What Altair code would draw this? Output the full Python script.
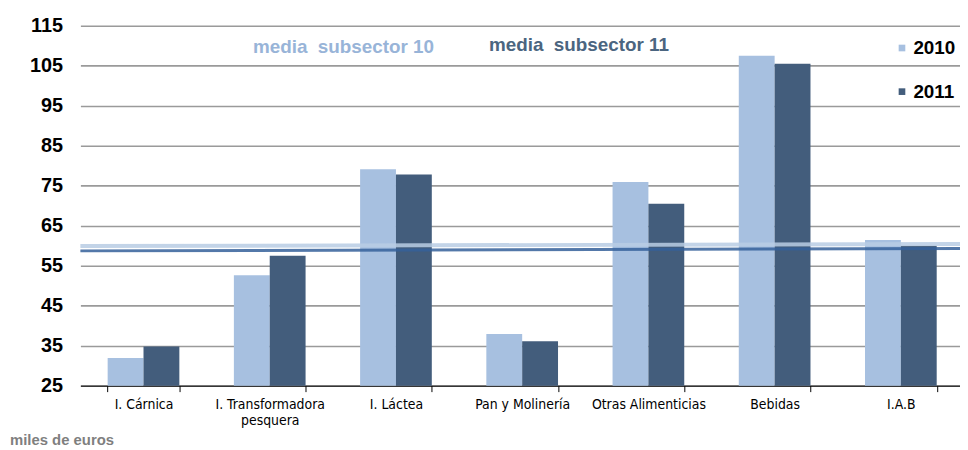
import altair as alt
import pandas as pd

categories = ["I. Cárnica", "I. Transformadora pesquera", "I. Láctea",
              "Pan y Molinería", "Otras Alimenticias", "Bebidas", "I.A.B"]
years = ["2010", "2011"]
v2010 = [31.9, 52.6, 79.1, 37.9, 75.9, 107.5, 61.4]
v2011 = [34.8, 57.5, 77.8, 36.1, 70.5, 105.5, 60.0]

line_x = [0, 7]
media10 = [59.9, 60.4]
media11 = [58.7, 59.3]

y_ticks = [25, 35, 45, 55, 65, 75, 85, 95, 105, 115]

rows = []
for c, a, b in zip(categories, v2010, v2011):
    rows.append({"cat": c, "year": "2010", "value": a})
    rows.append({"cat": c, "year": "2011", "value": b})
bars_df = pd.DataFrame(rows)

lines_df = pd.DataFrame({"x": line_x + line_x,
                         "v": media10 + media11,
                         "serie": ["m10"] * 2 + ["m11"] * 2})

FONT = "Liberation Sans"
NARROW = "DejaVu Sans Condensed, Liberation Sans Narrow, Liberation Sans"

yscale = alt.Scale(domain=[25, 115], nice=False, zero=False)

bars = alt.Chart(bars_df).mark_bar().encode(
    x=alt.X("cat:N", sort=categories, title=None,
            scale=alt.Scale(paddingInner=0.432, paddingOuter=0.216),
            axis=alt.Axis(labelAngle=0, labelFont=NARROW, labelFontSize=14,
                          labelColor="#000000", domainColor="#000000",
                          tickColor="#000000", tickSize=6, tickBand="extent",
                          labelPadding=6, labelLineHeight=16, labelLimit=200,
                          labelExpr="datum.label == 'I. Transformadora pesquera' ? ['I. Transformadora', 'pesquera'] : datum.label")),
    xOffset=alt.XOffset("year:N", scale=alt.Scale(paddingInner=0, paddingOuter=0)),
    y=alt.Y("value:Q", scale=yscale, title=None,
            axis=alt.Axis(values=y_ticks, domain=False, ticks=False,
                          labelFont=FONT, labelFontWeight="bold", labelFontSize=20,
                          labelColor="#000000", labelPadding=18,
                          gridColor="#9a9a9a", gridWidth=1.6)),
    y2=alt.datum(25),
    color=alt.Color("year:N", scale=alt.Scale(domain=years, range=["#a7c0e0", "#435d7c"]),
                    legend=alt.Legend(title=None, orient="none", legendX=819, legendY=13,
                                      symbolType="square", symbolSize=45,
                                      symbolStrokeWidth=0,
                                      labelFont=FONT, labelFontWeight="bold",
                                      labelFontSize=19, labelColor="#000000",
                                      rowPadding=24, labelOffset=2)),
)

lines = alt.Chart(lines_df).mark_line(opacity=0.85).encode(
    x=alt.X("x:Q", scale=alt.Scale(domain=[0, 7], nice=False), axis=None),
    y=alt.Y("v:Q", scale=yscale),
    detail="serie:N",
    color=alt.Color("serie:N", scale=alt.Scale(domain=["m10", "m11"], range=["#b8cce4", "#35609a"]),
                    legend=None),
    strokeWidth=alt.StrokeWidth("serie:N", scale=alt.Scale(domain=["m10", "m11"], range=[4, 3]),
                                legend=None),
)

ann_df = pd.DataFrame({"t": [0]})
t10 = alt.Chart(ann_df).mark_text(text="media\u00a0 subsector 10", font=FONT, fontWeight="bold",
                                  fontSize=19, color="#98b4d8", align="left", baseline="middle").encode(
    x=alt.value(174), y=alt.value(22))
t11 = alt.Chart(ann_df).mark_text(text="media\u00a0 subsector 11", font=FONT, fontWeight="bold",
                                  fontSize=19, color="#4b6580", align="left", baseline="middle").encode(
    x=alt.value(412), y=alt.value(20))
tunit = alt.Chart(ann_df).mark_text(text="miles de euros", font=FONT, fontWeight="bold",
                                    fontSize=15, color="#7f7f7f", align="left", baseline="middle").encode(
    x=alt.value(-71), y=alt.value(418))

chart = alt.layer(bars, lines, t10, t11, tunit).resolve_scale(
    x="independent", color="independent"
).properties(
    width=891, height=363,
    autosize=alt.AutoSizeParams(type="none"),
    padding={"left": 73, "top": 16, "right": -4, "bottom": 60},
).configure_view(stroke=None).configure_axis(labelFont=FONT)

chart.save("out.html", embed_options={"renderer": "svg", "actions": False})
